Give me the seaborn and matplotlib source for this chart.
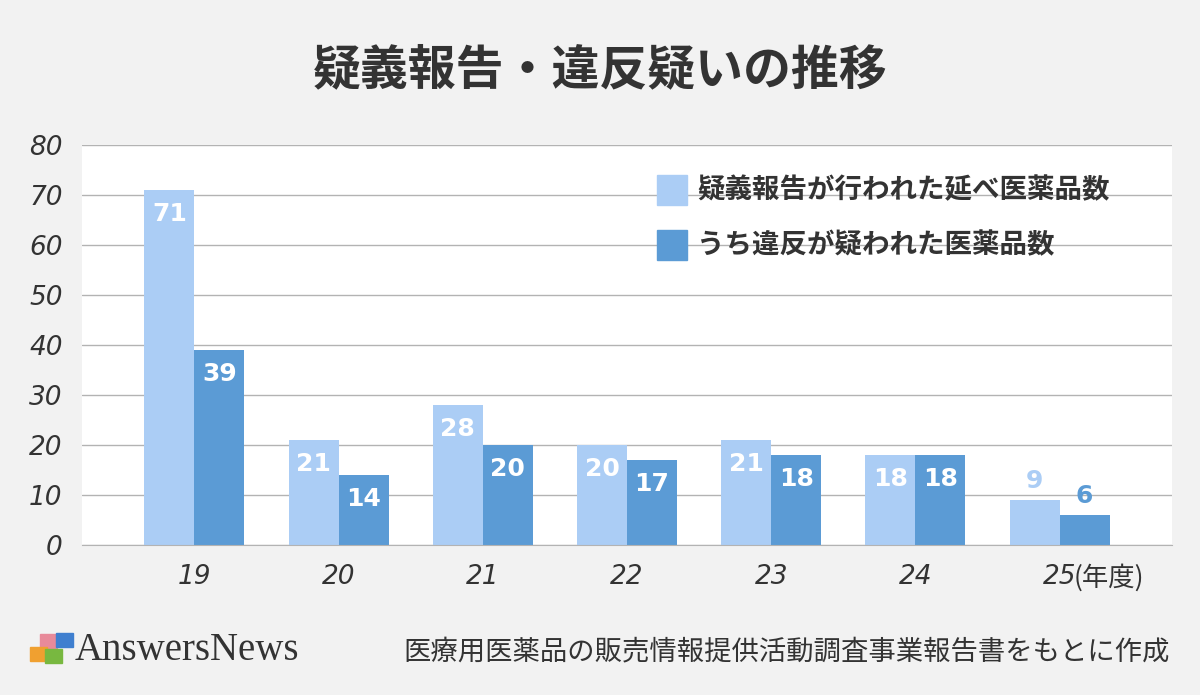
import pandas as pd
import numpy as np
import matplotlib.pyplot as plt
import seaborn as sns
from matplotlib.patches import Rectangle

# data
years = ['19', '20', '21', '22', '23', '24', '25']
reported = [71, 21, 28, 20, 21, 18, 9]
suspected = [39, 14, 20, 17, 18, 18, 6]
series = ['疑義報告が行われた延べ医薬品数', 'うち違反が疑われた医薬品数']
colors = ['#abcdf5', '#5b9bd5']

df = pd.DataFrame({
    'year': years * 2,
    'count': reported + suspected,
    'kind': [series[0]] * len(years) + [series[1]] * len(years),
})

sns.set_style("white")
plt.rcParams['font.family'] = ['Noto Sans CJK JP', 'DejaVu Sans']

fig = plt.figure(figsize=(12, 6.95), dpi=100, facecolor='#f2f2f2')
ax = fig.add_axes([82/1200, 150/695, 1090/1200, 400/695])
ax.set_facecolor('white')

sns.barplot(data=df, x='year', y='count', hue='kind', palette=colors,
            width=0.694, gap=0, saturation=1, linewidth=0, ax=ax, legend=False)

ax.set_ylim(0, 80)
ax.set_xlim(-0.78, 6.78)
ax.set_yticks(range(0, 81, 10))
ax.yaxis.grid(True, color='#b3b3b3', lw=1)
ax.set_axisbelow(True)
for s in ['top', 'right', 'left']:
    ax.spines[s].set_visible(False)
ax.spines['bottom'].set_color('#b3b3b3')
ax.tick_params(length=0)
ax.tick_params(axis='y', pad=14)
ax.tick_params(axis='x', pad=14)
ax.set_xlabel('')
ax.set_ylabel('')
for lab in ax.get_xticklabels() + ax.get_yticklabels():
    lab.set_family('DejaVu Sans')
    lab.set_style('italic')
    lab.set_fontsize(19)
    lab.set_color('#333333')
ax.text(6.10, -6.5, '(年度)', fontsize=19, color='#333333',
        ha='left', va='center')

# data labels
for cont, col in zip(ax.containers, colors):
    for bar in cont:
        v = bar.get_height()
        xc = bar.get_x() + bar.get_width() / 2
        if v < 10:
            ax.annotate(f'{v:.0f}', (xc, v), xytext=(0, 14), textcoords='offset points',
                        ha='center', va='center', fontsize=18, fontweight='bold',
                        family='DejaVu Sans', color=col)
        else:
            ax.annotate(f'{v:.0f}', (xc, v), xytext=(0, -17), textcoords='offset points',
                        ha='center', va='center', fontsize=18, fontweight='bold',
                        family='DejaVu Sans', color='white')

# legend
for i, (name, col) in enumerate(zip(series, colors)):
    yc = 1 - (190 + 55 * i) / 695
    fig.add_artist(Rectangle((657/1200, yc - 15/695), 30/1200, 30/695,
                             transform=fig.transFigure, color=col))
    fig.text(697/1200, yc, name, fontsize=19.8, fontweight='bold',
             color='#333333', va='center', ha='left')

fig.text(0.5, 1 - 70/695, '疑義報告・違反疑いの推移', fontsize=34.5, fontweight='bold',
         color='#333333', ha='center', va='center')

# footer
fig.text(1170/1200, 1 - 652/695, '医療用医薬品の販売情報提供活動調査事業報告書をもとに作成',
         fontsize=19.7, color='#333333', ha='right', va='center')
for (px, py), c in zip([(40, 634), (56, 633), (30, 647), (45, 649)],
                       ['#e88a9a', '#3f7fcf', '#f0a030', '#78b840']):
    fig.add_artist(Rectangle((px/1200, 1 - (py + 14)/695), 17/1200, 14/695,
                             transform=fig.transFigure, color=c))
fig.text(75/1200, 1 - 650/695, 'AnswersNews', family='Liberation Serif',
         fontsize=28, color='#333333', ha='left', va='center')

fig.savefig('out.png', dpi=100, facecolor=fig.get_facecolor())
